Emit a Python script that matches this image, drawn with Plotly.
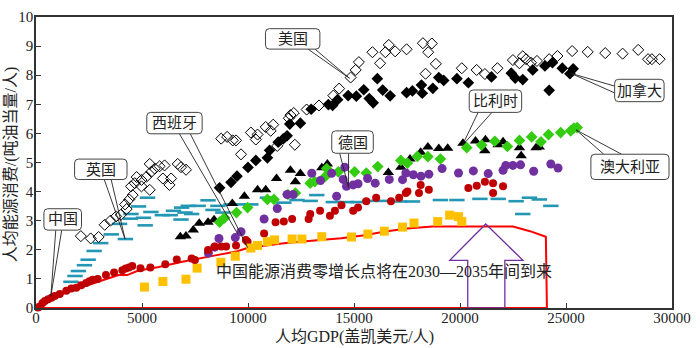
import plotly.graph_objects as go

# ---------------- data ----------------
china_x = [90, 187, 310, 420, 575, 730, 885, 1120, 1430, 1665, 1900, 2130, 2365, 2520, 2675, 2910,
           3300, 3685, 4075, 4230, 4385, 4540, 4930, 5395, 6100, 6640, 7340, 7495]
china_y = [0.02, 0.05, 0.17, 0.24, 0.30, 0.35, 0.41, 0.48, 0.59, 0.67, 0.70, 0.78, 0.86, 0.92, 0.97, 1.00,
           1.13, 1.22, 1.30, 1.36, 1.39, 1.44, 1.37, 1.39, 1.50, 1.67, 1.70, 1.65]

spain_x = [8115, 8428, 8740, 8970, 9435, 9900, 9980, 10760, 11300, 11690, 12080, 12860, 12935, 13400,
           13865, 14100, 14410, 14960, 15190, 15580, 16045, 16745, 17130, 17445, 17520, 18065, 18145,
           18530, 20395, 20790, 21175, 21560, 21560, 22030]
spain_y = [1.99, 2.11, 2.11, 2.11, 2.15, 2.34, 2.28, 2.56, 2.95, 2.97, 3.06, 3.06, 3.23, 3.34,
           3.17, 3.34, 3.53, 3.34, 3.45, 3.67, 3.79, 3.67, 3.79, 3.95, 4.00, 3.95, 4.23,
           4.06, 4.12, 4.20, 4.34, 4.29, 3.95, 4.18]

japan_x = [5115, 5985, 7075, 7600, 8720, 9400, 10135, 10450, 10915, 11255, 12080, 12545, 13480, 14880,
           15655, 16430, 17290, 17830, 18950, 19510, 19930, 20085]
japan_y = [0.72, 0.91, 0.99, 1.37, 1.57, 1.78, 2.06, 2.15, 2.28, 2.34, 2.37, 2.37, 2.45, 2.44,
           2.54, 2.64, 2.78, 2.92, 2.97, 3.19, 3.14, 2.97]

germany_x = [8130, 8430, 8630, 9400, 9670, 10760, 11380, 11845, 12125, 13010, 13420, 13945, 14180, 14565,
             14490, 14645, 14960, 15190, 15640, 16000, 16665, 17290, 17445, 17800, 18160, 18530, 19155,
             19930, 20630, 21330, 22030, 22160, 22495, 22855, 23475, 24285, 24625]
germany_y = [1.89, 2.09, 2.39, 2.42, 2.62, 3.06, 3.42, 3.90, 3.90, 4.63, 4.38, 4.63, 3.84, 4.84,
             4.42, 4.18, 4.23, 4.27, 4.45, 4.29, 4.42, 4.41, 4.64, 4.58, 4.53, 4.60, 4.79,
             4.64, 4.71, 4.62, 4.73, 4.90, 4.90, 4.92, 4.70, 4.95, 4.81]

uk_x = [1650, 1840, 2000, 2285, 2460, 2740, 3050, 3550, 4215, 3940, 4450, 4480, 4835, 5260, 5150, 5070,
        5420, 5960, 6330, 6485, 6870, 7180, 7030, 7650, 7340, 8115, 8580, 9200, 8350, 8815, 9515, 10135,
        10915, 11690, 12313, 12935, 13245, 14025, 14645, 15190, 15735, 16430, 17130, 17760, 19075, 19855,
        20940, 21800, 22650, 23275, 23740, 24285, 22960, 6840]
uk_y = [0.90, 1.10, 1.27, 1.47, 1.66, 1.96, 2.23, 2.53, 2.37, 2.89, 3.07, 3.23, 3.49, 3.79, 2.84, 3.10,
        3.30, 3.19, 3.19, 3.34, 3.45, 3.51, 3.28, 3.51, 3.23, 3.70, 3.51, 3.56, 3.37, 3.28, 3.56, 3.56,
        3.79, 3.62, 3.71, 3.68, 3.88, 3.64, 3.64, 3.64, 3.68, 3.68, 3.66, 3.66, 3.71, 3.71,
        3.75, 3.75, 3.67, 3.79, 3.73, 3.51, 3.23, 3.04]

usa_x = [2115, 2580, 2955, 3240, 3510, 3780, 4000, 4275, 4200, 4400, 4560, 4480, 4660, 4750, 4975, 5210,
         5440, 5365, 5600, 5830, 6065, 5985, 6295, 6375, 6685, 6840, 7075, 5365, 4975,
         8735, 9015, 9280, 9435, 9670, 10135, 10370, 10450, 10835, 11070, 11190, 11380, 12000, 12160,
         11925, 12210, 12765, 13350, 14025, 14300, 14840, 15080, 15230, 15870, 16230, 16480, 16640,
         16940, 17480, 18250, 18670, 18500, 18860, 18375, 20085, 20785, 21175, 21765, 22495, 22805,
         22960, 23120, 23350, 23630, 24205, 24595, 25290, 26025, 26850, 27670, 28405, 28870, 29050, 29415]
usa_y = [2.47, 2.39, 2.44, 2.86, 3.00, 3.15, 3.20, 3.40, 3.56, 3.73, 3.88, 4.18, 4.29, 4.50, 4.40, 4.51,
         4.68, 4.95, 4.79, 4.87, 4.90, 4.45, 4.23, 4.45, 4.95, 4.84, 4.75, 4.06, 4.18,
         5.82, 5.88, 5.76, 5.76, 5.28, 6.03, 5.79, 5.96, 6.22, 6.09, 6.30, 5.57, 6.63, 6.70,
         6.52, 5.61, 6.82, 6.96, 7.30, 7.54, 7.92, 8.18, 8.45, 8.79, 8.41, 8.79, 9.04,
         8.82, 8.89, 9.10, 9.09, 8.79, 8.39, 8.05, 8.24, 8.18, 8.04, 8.24, 8.52, 8.41,
         8.65, 8.55, 8.43, 8.49, 8.55, 8.66, 8.83, 8.80, 8.76, 8.74, 8.87, 8.55, 8.55, 8.55]

canada_x = [8660, 9200, 9480, 10000, 10370, 10915, 11020, 11425, 11660, 11845, 11970, 12470, 12980, 13790,
            13990, 14225, 14725, 15110, 15460, 15720, 15905, 16100, 16355, 16705, 17480, 17755, 18180,
            18220, 18720, 19000, 19230, 19855, 20395, 21485, 22420, 22605, 22960, 23430, 24005, 24360,
            24205, 24825, 25340, 25185]
canada_y = [4.13, 4.32, 4.53, 4.83, 5.07, 5.16, 5.42, 5.70, 5.81, 5.92, 6.32, 6.35, 6.83, 6.99,
            6.96, 7.16, 7.30, 7.28, 7.50, 7.20, 7.05, 7.88, 7.49, 7.29, 7.40, 7.46, 7.66,
            7.38, 7.55, 7.92, 7.82, 7.88, 7.74, 7.94, 8.07, 7.90, 7.85, 8.18, 8.32, 8.43,
            7.48, 8.24, 8.22, 8.05]

belgium_x = [6810, 7075, 7420, 7700, 8115, 8400, 9260, 9830, 10450, 10835, 11345, 12000, 12235, 12470,
             13480, 13745, 16620, 17210, 17640, 18145, 18485, 19000, 19420, 20140, 20730, 21170, 21200,
             21800, 22030, 22805, 22885, 23585, 23740]
belgium_y = [2.45, 2.47, 2.68, 2.91, 2.95, 3.03, 3.59, 3.84, 4.06, 4.06, 4.45, 4.73, 4.34, 4.62,
             4.82, 4.95, 4.66, 4.84, 5.12, 5.35, 5.53, 5.48, 5.49, 5.66, 5.74, 5.40, 5.78,
             5.61, 5.71, 5.51, 5.23, 5.51, 5.53]

australia_x = [8660, 8895, 9460, 9980, 10915, 11225, 11880, 12235, 12935, 13150, 13635, 13710, 14260,
               15030, 15580, 16120, 17210, 17520, 17990, 18485, 19075, 20320, 21020, 21640, 22235,
               22805, 23380, 23820, 24175, 24750, 25220, 25370, 25525]
australia_y = [2.95, 3.10, 3.28, 3.45, 3.73, 3.73, 3.90, 3.95, 4.29, 4.34, 4.51, 4.79, 4.68,
               4.68, 4.64, 4.86, 5.07, 4.98, 5.21, 5.20, 5.12, 5.51, 5.60, 5.73, 5.55,
               5.76, 5.88, 5.71, 5.96, 6.03, 6.09, 6.18, 6.20]

path_x = [0, 500, 1000, 1500, 2000, 2500, 3000, 3500, 3900, 4300, 4800, 5800, 6900, 8400, 9500, 10000,
          11800, 13400, 14400, 15500, 16400, 17500, 18700, 19800, 22500, 23300, 24050, 24100, 0]
path_y = [0, 0.25, 0.43, 0.56, 0.68, 0.80, 0.92, 1.04, 1.13, 1.13, 1.28, 1.41, 1.59, 1.80, 1.95, 2.07,
          2.23, 2.34, 2.40, 2.50, 2.62, 2.73, 2.80, 2.80, 2.80, 2.64, 2.45, 0, 0]

x_ticks = [0, 5000, 10000, 15000, 20000, 25000, 30000]
y_ticks = list(range(0, 11))

# ---------------- styling helpers ----------------
FONT = "Liberation Serif, Noto Sans CJK SC, serif"
L, R, T, B = 36, 21, 9, 40
W, H = 700, 348
XMAX, YMAX = 30000, 10
PW, PH = W - L - R, H - T - B


def X(px):
    return (px - L) / PW * XMAX


def Y(py):
    return (T + PH - py) / PH * YMAX


fig = go.Figure()

fig.add_trace(go.Scatter(x=path_x, y=path_y, mode="lines",
                         line=dict(color="#FF0000", width=2), cliponaxis=False, hoverinfo="skip"))


def pts(x, y, symbol, color, size=9, line=None):
    m = dict(symbol=symbol, color=color, size=size)
    if line:
        m["line"] = line
    fig.add_trace(go.Scatter(x=x, y=y, mode="markers", marker=m, cliponaxis=False))


pts(uk_x, uk_y, "line-ew", "#2397B4", size=11, line=dict(color="#2397B4", width=2.6))
pts(usa_x, usa_y, "diamond-open", "black", size=8.5, line=dict(color="black", width=1))
pts(canada_x, canada_y, "diamond", "black", size=9)
pts(belgium_x, belgium_y, "triangle-up", "black", size=10)
pts(australia_x, australia_y, "diamond", "#33CC11", size=9)
pts(germany_x, germany_y, "circle", "#7030A0", size=9)
pts(spain_x, spain_y, "circle", "#C00000", size=8)
pts(japan_x, japan_y, "square", "#FFC000", size=9)
pts(china_x, china_y, "circle", "#C00000", size=8)

shapes = []
annotations = []


def rounded_box(x0, y0, x1, y1, r=4):
    p = (f"M {X(x0 + r)},{Y(y0)} L {X(x1 - r)},{Y(y0)} Q {X(x1)},{Y(y0)} {X(x1)},{Y(y0 + r)} "
         f"L {X(x1)},{Y(y1 - r)} Q {X(x1)},{Y(y1)} {X(x1 - r)},{Y(y1)} "
         f"L {X(x0 + r)},{Y(y1)} Q {X(x0)},{Y(y1)} {X(x0)},{Y(y1 - r)} "
         f"L {X(x0)},{Y(y0 + r)} Q {X(x0)},{Y(y0)} {X(x0 + r)},{Y(y0)} Z")
    return dict(type="path", path=p, xref="x", yref="y", fillcolor="white",
                line=dict(color="#444", width=1), layer="above")


def callout(text, box, bases, tips):
    x0, y0, x1, y1 = box
    for (bx, by), (tx, ty) in zip(bases, tips):
        shapes.append(dict(type="line", xref="x", yref="y", x0=X(bx), y0=Y(by), x1=X(tx), y1=Y(ty),
                           line=dict(color="#222", width=0.9), layer="above"))
    shapes.append(rounded_box(x0, y0, x1, y1))
    annotations.append(dict(x=X((x0 + x1) / 2), y=Y((y0 + y1) / 2), xref="x", yref="y", text=text,
                            showarrow=False, font=dict(family=FONT, size=15, color="#222"),
                            xanchor="center", yanchor="middle"))


callout("中国", (44, 206, 82, 228), [(56, 228), (62, 228)], [(51, 296), (51, 296)])
callout("英国", (75, 155, 128, 176), [(105, 176), (112, 176)], [(126, 237), (126, 237)])
callout("西班牙", (148, 107, 204, 129), [(181, 129), (192, 129)], [(240, 232), (250, 246)])
callout("美国", (268, 21, 323, 42), [(311, 42), (318, 42)], [(353, 72), (353, 72)])
callout("德国", (335, 126, 377, 149), [(343, 149), (352, 149)], [(352, 184), (352, 184)])
callout("比利时", (474, 84, 527, 107), [(483, 107), (497, 107)], [(467, 141), (467, 141)])
callout("加拿大", (621, 73, 671, 96), [(621, 80), (621, 87)], [(577, 67), (577, 67)])
callout("澳大利亚", (597, 150, 676, 176), [(610, 150), (628, 150)], [(582, 125), (582, 125)])

# hollow purple arrow
arrow_px = [(490.7, 221.7), (528.3, 259), (510, 259), (510, 308), (472.5, 308), (472.5, 259), (454.3, 259)]
ap = "M " + " L ".join(f"{X(a)},{Y(b)}" for a, b in arrow_px) + " Z"
shapes.append(dict(type="path", path=ap, xref="x", yref="y", line=dict(color="#7030A0", width=1.3),
                   layer="above"))

annotations.append(dict(x=X(387.5), y=Y(270), xref="x", yref="y",
                        text="中国能源消费零增长点将在2030—2035年间到来", showarrow=False,
                        font=dict(family=FONT, size=16, color="#222"), xanchor="center", yanchor="middle"))

# axis titles
annotations.append(dict(x=(357.5 - L) / PW, y=1 - (337.5 - T) / PH, xref="paper", yref="paper",
                        text="人均GDP(盖凯美元/人)", showarrow=False,
                        font=dict(family=FONT, size=16, color="#222"), xanchor="center", yanchor="middle"))
annotations.append(dict(x=(11 - L) / PW, y=1 - (160 - T) / PH, xref="paper", yref="paper",
                        text="人均能源消费/(吨油当量/人)", showarrow=False, textangle=-90,
                        font=dict(family=FONT, size=16, color="#222"), xanchor="center", yanchor="middle"))

axis_common = dict(showgrid=False, zeroline=False, showline=True, linecolor="#333", linewidth=1.5,
                   mirror=True, ticks="inside", ticklen=5, tickwidth=1.2, tickcolor="#333",
                   tickfont=dict(family=FONT, size=15, color="#222"))

fig.update_layout(
    width=W, height=H, margin=dict(l=L, r=R, t=T, b=B),
    paper_bgcolor="white", plot_bgcolor="white", showlegend=False,
    xaxis=dict(range=[0, XMAX], tickvals=x_ticks, ticktext=[str(v) for v in x_ticks],
               ticklabelstandoff=-5, **axis_common),
    yaxis=dict(range=[0, YMAX], tickvals=y_ticks, ticktext=[str(v) for v in y_ticks],
               ticklabelstandoff=-2, **axis_common),
    shapes=shapes, annotations=annotations,
)

fig.write_html("out.html")
